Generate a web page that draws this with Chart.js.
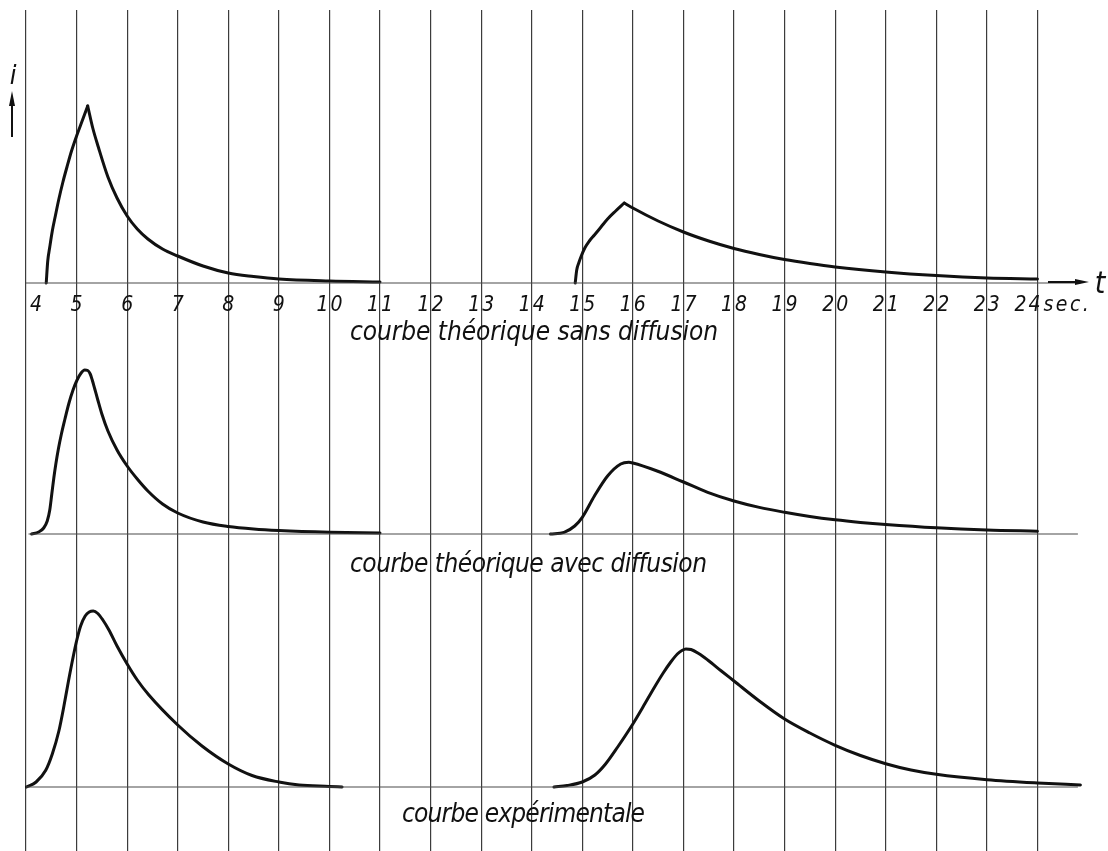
<!DOCTYPE html>
<html>
<head>
<meta charset="utf-8">
<script src="https://cdn.jsdelivr.net/npm/chart.js@4.4.1/dist/chart.umd.min.js"></script>
<style>
html,body{margin:0;padding:0;background:#fff;}
#wrap{width:1108px;height:851px;}
</style>
</head>
<body>
<div id="wrap"><canvas id="c" width="1108" height="851"></canvas></div>
<script>
// ---------- DATA (time in s, current i in arbitrary units) ----------
const tickSeconds = [4,5,6,7,8,9,10,11,12,13,14,15,16,17,18,19,20,21,22,23,24];
const tickLabels  = ['4','5','6','7','8','9','10','11','12','13','14','15','16','17','18','19','20','21','22','23','24'];
const unitLabel = 'sec.';
const yAxisSymbol = 'i';
const xAxisSymbol = 't';
const panelTitles = ['courbe théorique sans diffusion','courbe théorique avec diffusion','courbe expérimentale'];

// courbe théorique sans diffusion (sharp peaks: rise + fall)
const sansRise1T = [4.40, 4.43, 4.47, 4.52, 4.58, 4.65, 4.73, 4.81, 4.90, 5.00, 5.11, 5.22];
const sansRise1I = [0, 22, 36, 52, 67, 84, 101, 116, 132, 147, 162, 177];
const sansFall1T = [5.22, 5.32, 5.43, 5.62, 5.80, 6.00, 6.20, 6.41, 6.70, 7.00, 7.50, 8.00, 8.50, 9.00, 10.00, 11.00];
const sansFall1I = [177, 155, 136, 106, 85, 67, 54, 44, 34, 27, 17, 10, 6.5, 4, 2, 1];
const sansRise2T = [14.86, 14.89, 14.93, 14.98, 15.05, 15.14, 15.24, 15.37, 15.50, 15.66, 15.83];
const sansRise2I = [0, 13, 20, 27, 35, 42, 48, 56, 64, 72, 80];
const sansFall2T = [15.83, 16.00, 16.50, 17.00, 17.50, 18.00, 18.50, 19.00, 19.50, 20.00, 21.00, 22.00, 23.00, 24.00];
const sansFall2I = [80, 75, 62, 51, 42, 34.5, 28.5, 23.4, 19.4, 16, 11, 7.4, 5, 4];

// courbe théorique avec diffusion
const avec1T = [4.11, 4.25, 4.35, 4.42, 4.47, 4.51, 4.55, 4.59, 4.64, 4.70, 4.77, 4.85, 4.93, 5.01, 5.09, 5.16, 5.22, 5.27, 5.31, 5.36, 5.42, 5.50, 5.62, 5.80, 6.00, 6.20, 6.41, 6.70, 7.00, 7.50, 8.00, 8.50, 9.00, 10.00, 11.00];
const avec1I = [0, 2, 6, 13, 24, 40, 56, 70, 85, 100, 115, 131, 144, 154, 161, 164, 163.5, 160, 154, 145, 134, 120, 103, 84, 68, 55, 43, 30, 21, 12, 7.5, 5, 3.5, 1.8, 1];
const avec2T = [14.37, 14.64, 14.85, 15.00, 15.24, 15.50, 15.76, 15.92, 16.00, 16.48, 17.00, 17.48, 18.00, 18.50, 19.00, 19.50, 20.00, 20.50, 21.00, 22.00, 23.00, 24.00];
const avec2I = [0, 1.7, 8, 16.7, 38, 58, 70, 71.7, 71, 63, 52, 41.7, 33, 26.6, 21.7, 17.5, 14.2, 11.6, 9.5, 6.2, 4, 2.8];

// courbe expérimentale
const exp1T = [4.01, 4.20, 4.39, 4.52, 4.65, 4.75, 4.84, 4.94, 5.00, 5.08, 5.17, 5.25, 5.33, 5.42, 5.52, 5.64, 5.80, 6.00, 6.20, 6.43, 7.00, 7.48, 8.00, 8.47, 9.00, 9.40, 10.00, 10.25];
const exp1I = [0, 5, 16.7, 33, 56, 81, 106, 132, 146, 161, 171, 175, 176, 173.5, 167, 157, 141, 123, 107, 92, 62, 41, 23, 11.5, 5, 2, 0.6, 0];
const exp2T = [14.44, 14.70, 15.00, 15.25, 15.46, 15.70, 16.00, 16.20, 16.43, 16.60, 16.75, 16.88, 16.97, 17.05, 17.15, 17.30, 17.48, 17.75, 18.00, 18.50, 19.00, 19.50, 20.00, 20.50, 21.00, 21.50, 22.00, 23.00, 24.00, 24.85];
const exp2I = [0, 1.5, 5, 12, 23, 40, 63, 80, 100, 114, 125, 133, 136.5, 138, 137.5, 133.5, 127, 116, 106, 86, 68, 54, 41.7, 31.5, 23.3, 17, 12.7, 7.3, 4, 2];

// baselines (time extent of each panel's zero line)
const baseline1T = [4, 24.85];
const baseline2T = [4.05, 24.8];
const baseline3T = [4, 24.8];

// ---------- helpers ----------
const zip = (ts, is) => ts.map((t, k) => ({x: t, y: is[k]}));
const curve = (ts, is, axis) => ({
  data: zip(ts, is), yAxisID: axis,
  borderColor: '#111', borderWidth: 3, pointRadius: 0,
  cubicInterpolationMode: 'monotone', fill: false, clip: 6,
  borderJoinStyle: 'round', borderCapStyle: 'round'
});
const base = (ts, axis) => ({
  data: ts.map(t => ({x: t, y: 0})), yAxisID: axis,
  borderColor: '#4a4a4a', borderWidth: 1.2, pointRadius: 0, fill: false, clip: 6
});

const FONT_FAM = '"Liberation Sans Narrow","DejaVu Sans Condensed","Arial Narrow",sans-serif';

function drawSpaced(ctx, text, x, y, spacing, align, font) {
  ctx.font = font;
  ctx.textAlign = 'left';
  ctx.textBaseline = 'alphabetic';
  const chars = Array.from(text);
  const ws = chars.map(c => ctx.measureText(c).width);
  const total = ws.reduce((a, b) => a + b, 0) + spacing * (chars.length - 1);
  let cx = align === 'center' ? x - total / 2 : align === 'right' ? x - total : x;
  chars.forEach((c, k) => { ctx.fillText(c, cx, y); cx += ws[k] + spacing; });
}
function drawFitted(ctx, text, xl, xr, y, font) {
  ctx.font = font;
  const chars = Array.from(text);
  const sum = chars.reduce((a, c) => a + ctx.measureText(c).width, 0);
  const sp = (xr - xl - sum) / (chars.length - 1);
  drawSpaced(ctx, text, xl, y, sp, 'left', font);
}

const annotations = {
  id: 'annotations',
  afterDraw(chart) {
    const ctx = chart.ctx;
    const xs = chart.scales.x;
    const b1 = chart.scales.y.getPixelForValue(0);
    const b2 = chart.scales.y2.getPixelForValue(0);
    const b3 = chart.scales.y3.getPixelForValue(0);
    ctx.save();
    ctx.fillStyle = '#111';
    ctx.strokeStyle = '#111';
    const tickFont = 'italic 21px ' + FONT_FAM;
    const yTick = b1 + 28;
    tickSeconds.forEach((s, k) => {
      const px = xs.getPixelForValue(s);
      const lab = tickLabels[k];
      if (k === 0) drawSpaced(ctx, lab, px + 4, yTick, 2, 'left', tickFont);
      else if (k === tickSeconds.length - 1) {
        drawSpaced(ctx, lab, px + 3, yTick, 2, 'right', tickFont);
        drawSpaced(ctx, unitLabel, px + 6, yTick, 2.5, 'left', tickFont);
      } else drawSpaced(ctx, lab, px, yTick, 2, 'center', tickFont);
    });
    const titleFont = 'italic 26px ' + FONT_FAM;
    drawFitted(ctx, panelTitles[0], 350, 718, b1 + 57, titleFont);
    drawFitted(ctx, panelTitles[1], 350, 707, b2 + 38, titleFont);
    drawFitted(ctx, panelTitles[2], 402, 645, b3 + 35, titleFont);

    // i with upward arrow
    ctx.font = 'italic 27px ' + FONT_FAM;
    ctx.textAlign = 'center';
    ctx.fillText(yAxisSymbol, 13, 84);
    ctx.lineWidth = 2;
    ctx.beginPath(); ctx.moveTo(12, 137); ctx.lineTo(12, 100); ctx.stroke();
    ctx.beginPath(); ctx.moveTo(12, 91); ctx.lineTo(9, 106); ctx.lineTo(15, 106); ctx.closePath(); ctx.fill();

    // t with right arrow
    const ya = b1 - 1;
    ctx.beginPath(); ctx.moveTo(1048, ya); ctx.lineTo(1078, ya); ctx.stroke();
    ctx.beginPath(); ctx.moveTo(1089, ya); ctx.lineTo(1075, ya - 3); ctx.lineTo(1075, ya + 3); ctx.closePath(); ctx.fill();
    ctx.font = 'italic 30px ' + FONT_FAM;
    ctx.textAlign = 'center';
    ctx.fillText(xAxisSymbol, 1100, b1 + 10);
    ctx.restore();
  }
};

// panel zero lines: pixel rows 283, 534, 787 inside a chart area spanning 10..851
const yScale = (min, max) => ({type: 'linear', display: false, min: min, max: max});

new Chart(document.getElementById('c'), {
  type: 'line',
  data: {
    datasets: [
      base(baseline1T, 'y'), base(baseline2T, 'y2'), base(baseline3T, 'y3'),
      curve(sansRise1T, sansRise1I, 'y'), curve(sansFall1T, sansFall1I, 'y'),
      curve(sansRise2T, sansRise2I, 'y'), curve(sansFall2T, sansFall2I, 'y'),
      curve(avec1T, avec1I, 'y2'), curve(avec2T, avec2I, 'y2'),
      curve(exp1T, exp1I, 'y3'), curve(exp2T, exp2I, 'y3')
    ]
  },
  options: {
    responsive: false,
    devicePixelRatio: 1,
    animation: false,
    layout: {padding: {top: 10, left: 26, right: 20, bottom: 0}},
    plugins: {legend: {display: false}, tooltip: {enabled: false}, title: {display: false}},
    scales: {
      x: {
        type: 'linear', min: 4, max: 25,
        afterBuildTicks: (sc) => { sc.ticks = tickSeconds.map(v => ({value: v})); },
        ticks: {display: false},
        border: {display: false},
        grid: {color: '#3c3c3c', lineWidth: 1.2, drawTicks: false}
      },
      y: yScale(-568, 273),
      y2: yScale(-317, 524),
      y3: yScale(-64, 777)
    }
  },
  plugins: [annotations]
});
</script>
</body>
</html>
